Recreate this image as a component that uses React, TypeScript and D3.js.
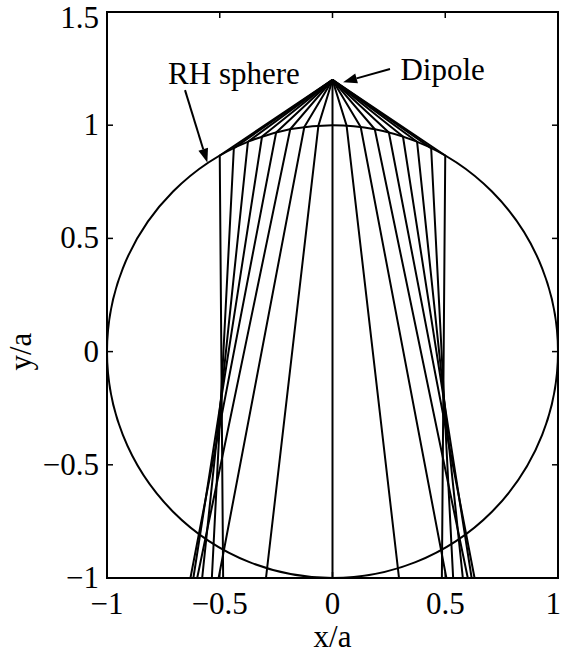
import React from 'react';
import * as d3 from 'd3';

// ray geometry (x/a, y/a)
const dipole: [number, number] = [0, 1.2];
const surfaceX = [-0.5, -0.4375, -0.375, -0.3125, -0.25, -0.1875, -0.125, -0.0625, 0, 0.0625, 0.125, 0.1875, 0.25, 0.3125, 0.375, 0.4375, 0.5];
const surfaceY = [0.866, 0.899, 0.927, 0.95, 0.968, 0.982, 0.992, 0.998, 1, 0.998, 0.992, 0.982, 0.968, 0.95, 0.927, 0.899, 0.866];
const bottomX = [-0.485, -0.535, -0.578, -0.617, -0.63, -0.6, -0.505, -0.295, 0, 0.295, 0.505, 0.6, 0.63, 0.617, 0.578, 0.535, 0.485];

const xTicks = [-1, -0.5, 0, 0.5, 1];
const yTicks = [-1, -0.5, 0, 0.5, 1, 1.5];

const W = 563;
const H = 655;
const margin = { top: 12, right: 5, bottom: 77, left: 107 };

const fmt = (v: number) => (v < 0 ? '\u2212' + String(-v) : String(v));

export default function App() {
  const x = d3.scaleLinear().domain([-1, 1]).range([margin.left, W - margin.right]);
  const y = d3.scaleLinear().domain([-1, 1.5]).range([H - margin.bottom, margin.top]);

  const line = d3.line<[number, number]>()
    .x(d => x(d[0]))
    .y(d => y(d[1]));

  const rays = surfaceX.map((sx, i) => line([dipole, [sx, surfaceY[i]], [bottomX[i], -1]]) as string);

  const tf: React.CSSProperties = { fontFamily: "'Liberation Serif', 'DejaVu Serif', Times, serif", fontSize: 31 };
  const tick = 6;

  // arrowhead helper
  const arrow = (from: [number, number], to: [number, number]) => {
    const x0 = x(from[0]), y0 = y(from[1]), x1 = x(to[0]), y1 = y(to[1]);
    const ang = Math.atan2(y1 - y0, x1 - x0);
    const len = 14, wid = 5;
    const bx = x1 - len * Math.cos(ang), by = y1 - len * Math.sin(ang);
    const p = [
      [x1, y1],
      [bx + wid * Math.sin(ang), by - wid * Math.cos(ang)],
      [bx - wid * Math.sin(ang), by + wid * Math.cos(ang)],
    ];
    return (
      <g>
        <line x1={x0} y1={y0} x2={bx} y2={by} stroke="#000" strokeWidth={2} />
        <polygon points={p.map(q => q.join(',')).join(' ')} fill="#000" />
      </g>
    );
  };

  return (
    <svg width={W} height={H} style={{ position: 'absolute', left: 0, top: 0, background: '#fff' }}>
      <rect width={W} height={H} fill="#fff" />
      <defs>
        <clipPath id="plot">
          <rect x={x(-1)} y={y(1.5)} width={x(1) - x(-1)} height={y(-1) - y(1.5)} />
        </clipPath>
      </defs>

      <g clipPath="url(#plot)">
        <ellipse cx={x(0)} cy={y(0)} rx={x(1) - x(0)} ry={y(0) - y(1)} fill="none" stroke="#000" strokeWidth={2} />
        {rays.map((d, i) => (
          <path key={i} d={d} fill="none" stroke="#000" strokeWidth={2} strokeLinejoin="round" />
        ))}
      </g>

      {/* box */}
      <rect x={x(-1)} y={y(1.5)} width={x(1) - x(-1)} height={y(-1) - y(1.5)} fill="none" stroke="#000" strokeWidth={2} />

      {xTicks.map(t => (
        <g key={'x' + t}>
          <line x1={x(t)} x2={x(t)} y1={y(-1)} y2={y(-1) - tick} stroke="#000" strokeWidth={1.5} />
          <line x1={x(t)} x2={x(t)} y1={y(1.5)} y2={y(1.5) + tick} stroke="#000" strokeWidth={1.5} />
          <text x={t === 1 ? W - 2 : x(t)} y={y(-1) + 36} style={tf} textAnchor={t === 1 ? 'end' : 'middle'}>{fmt(t)}</text>
        </g>
      ))}
      {yTicks.map(t => (
        <g key={'y' + t}>
          <line x1={x(-1)} x2={x(-1) + tick} y1={y(t)} y2={y(t)} stroke="#000" strokeWidth={1.5} />
          <line x1={x(1)} x2={x(1) - tick} y1={y(t)} y2={y(t)} stroke="#000" strokeWidth={1.5} />
          <text x={x(-1) - 8} y={t === 1.5 ? y(t) + 16 : y(t) + 10} style={tf} textAnchor="end">{fmt(t)}</text>
        </g>
      ))}

      <text x={x(0)} y={H - 8} style={tf} textAnchor="middle">x/a</text>
      <text transform={`translate(31,${y(0)}) rotate(-90)`} style={tf} textAnchor="middle">y/a</text>

      <text x={x(-0.729)} y={y(1.182)} style={tf}>RH sphere</text>
      <text x={x(0.301)} y={y(1.2)} style={tf}>Dipole</text>
      {arrow([-0.654, 1.155], [-0.555, 0.835])}
      {arrow([0.255, 1.248], [0.047, 1.19])}
    </svg>
  );
}
